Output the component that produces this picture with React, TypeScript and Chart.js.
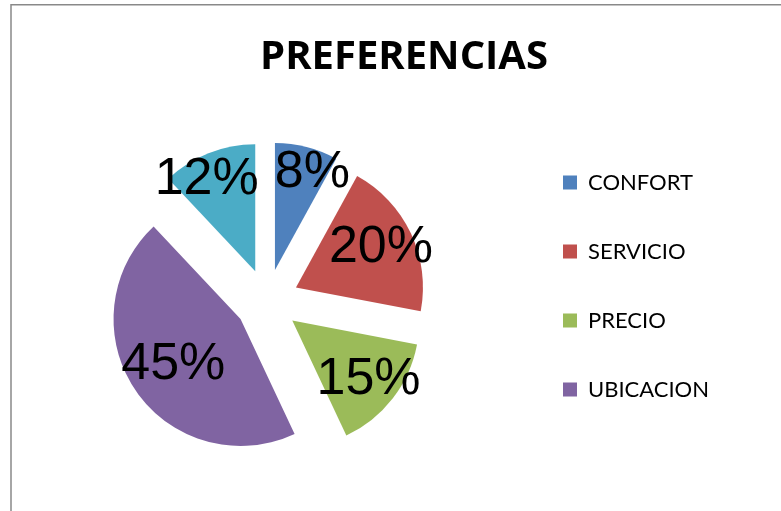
import React, { useEffect, useRef } from "react";
import { Chart, registerables, ArcElement } from "chart.js";

// ---- data ----
const title = "PREFERENCIAS";
const categories = ["CONFORT", "SERVICIO", "PRECIO", "UBICACION", "OTROS"];
const values = [8, 20, 15, 45, 12];
const legendCategories = ["CONFORT", "SERVICIO", "PRECIO", "UBICACION"];
const colors = ["#4F81BD", "#C0504D", "#9BBB59", "#8064A2", "#4BACC6"];

// ---- styling ----
const EXPLODE = 32; // uniform slice explosion in px
const RADIUS = 127;
const W = 781;
const H = 511;
const LEGEND_FONT = 22;
const LEGEND_PAD = 47;
const LEGEND_BOX = 14;

// Arc element that is exploded by a uniform distance (no radius/angle distortion)
class ExplodedArc extends (ArcElement as any) {
  static id = "explodedArc";
  draw(ctx: CanvasRenderingContext2D) {
    const self: any = this;
    const { x, y, startAngle, endAngle, outerRadius, options } = self;
    if (!(endAngle > startAngle)) return;
    const off = options.offset || 0;
    const mid = (startAngle + endAngle) / 2;
    const cx = x + Math.cos(mid) * off;
    const cy = y + Math.sin(mid) * off;
    ctx.save();
    ctx.fillStyle = options.backgroundColor;
    ctx.beginPath();
    ctx.moveTo(cx, cy);
    ctx.arc(cx, cy, outerRadius, startAngle, endAngle);
    ctx.closePath();
    ctx.fill();
    ctx.restore();
  }
}

Chart.register(...registerables, ExplodedArc as any);
(Chart.defaults as any).datasets.pie.dataElementType = "explodedArc";

const framePlugin = {
  id: "frame",
  beforeDraw(chart: any) {
    const ctx = chart.ctx;
    ctx.save();
    ctx.fillStyle = "#ffffff";
    ctx.fillRect(0, 0, chart.width, chart.height);
    ctx.strokeStyle = "#898989";
    ctx.lineWidth = 1.5;
    ctx.strokeRect(11, 4.75, chart.width + 100, chart.height + 100);
    ctx.restore();
  },
  afterDraw(chart: any) {
    const ctx = chart.ctx;
    ctx.save();
    ctx.fillStyle = "#000";
    ctx.font = 'bold 40px "Open Sans"';
    ctx.textAlign = "center";
    ctx.textBaseline = "alphabetic";
    ctx.fillText(title, 404, 69);
    ctx.restore();
  },
};

const labelPlugin = {
  id: "pctLabels",
  afterDatasetsDraw(chart: any) {
    const ctx = chart.ctx;
    const meta = chart.getDatasetMeta(0);
    const data = chart.data.datasets[0].data as number[];
    const total = data.reduce((a, b) => a + b, 0);
    ctx.save();
    ctx.fillStyle = "#000";
    ctx.font = '52px "Liberation Sans"';
    ctx.textAlign = "center";
    ctx.textBaseline = "middle";
    const labels = meta.data.map((arc: any, i: number) => {
      const { x, y, startAngle, endAngle, outerRadius } = arc.getProps(
        ["x", "y", "startAngle", "endAngle", "outerRadius"],
        true
      );
      const frac = data[i] / total;
      const mid = (startAngle + endAngle) / 2;
      const dist = EXPLODE + outerRadius * (0.82 - 0.4 * frac);
      const text = Math.round(frac * 100) + "%";
      return {
        text,
        x: x + Math.cos(mid) * dist,
        y: y + Math.sin(mid) * dist,
        w: ctx.measureText(text).width,
        h: 40,
      };
    });
    // simple horizontal overlap resolution
    const margin = 16;
    for (let a = 0; a < labels.length; a++) {
      for (let b = a + 1; b < labels.length; b++) {
        const A = labels[a];
        const B = labels[b];
        if (Math.abs(A.y - B.y) < (A.h + B.h) / 2) {
          const need = (A.w + B.w) / 2 + margin;
          const gap = Math.abs(A.x - B.x);
          if (gap < need) {
            const push = (need - gap) / 2;
            if (A.x >= B.x) {
              A.x += push;
              B.x -= push;
            } else {
              A.x -= push;
              B.x += push;
            }
          }
        }
      }
    }
    labels.forEach((l: any) => ctx.fillText(l.text, l.x, l.y));
    ctx.restore();
  },
};

function legendWidth(): number {
  const c = document.createElement("canvas").getContext("2d")!;
  c.font = `${LEGEND_FONT}px Lato`;
  let maxW = 0;
  legendCategories.forEach((t) => (maxW = Math.max(maxW, c.measureText(t).width)));
  return LEGEND_PAD + LEGEND_BOX + LEGEND_FONT / 2 + maxW + 10;
}

export default function App() {
  const ref = useRef<HTMLCanvasElement | null>(null);

  useEffect(() => {
    if (!ref.current) return;
    const legendLeft = 516;
    const padRight = W - legendLeft - legendWidth();
    const centerX = 267;
    const padLeft = 2 * centerX - legendLeft;
    const chart = new Chart(ref.current, {
      type: "pie",
      data: {
        labels: categories,
        datasets: [
          {
            data: values,
            backgroundColor: colors,
            borderWidth: 0,
            offset: EXPLODE,
          } as any,
        ],
      },
      options: {
        responsive: false,
        animation: false,
        events: [],
        radius: RADIUS,
        layout: { padding: { left: padLeft, right: padRight, top: 124.5, bottom: 33.5 } },
        plugins: {
          title: { display: false },
          tooltip: { enabled: false },
          legend: {
            display: true,
            position: "right",
            align: "start",
            labels: {
              boxWidth: LEGEND_BOX,
              boxHeight: LEGEND_BOX,
              padding: LEGEND_PAD,
              color: "#000",
              font: { family: "Lato", size: LEGEND_FONT },
              filter: (item: any) => legendCategories.includes(item.text),
            },
          },
        },
      } as any,
      plugins: [framePlugin, labelPlugin],
    });
    return () => chart.destroy();
  }, []);

  return (
    <div
      style={{
        position: "absolute",
        left: 0,
        top: 0,
        width: W,
        height: H,
        overflow: "hidden",
        background: "#fff",
      }}
    >
      <canvas ref={ref} width={W} height={H} style={{ display: "block", width: W, height: H }} />
    </div>
  );
}
